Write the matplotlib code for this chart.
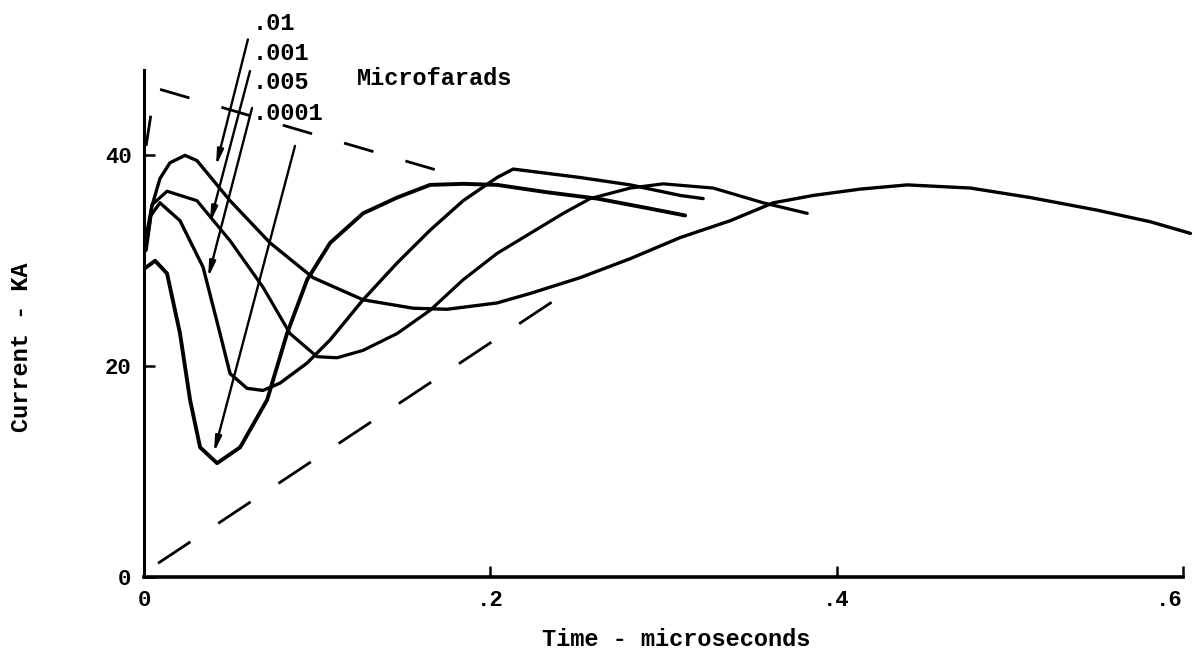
import numpy as np
import matplotlib.pyplot as plt

# ---------------------- data ----------------------

# time in microseconds, current in KA
t_01 = [0.0017, 0.0046, 0.0092, 0.0150, 0.0237, 0.0306, 0.0497, 0.0728, 0.0976, 0.1265,
        0.1554, 0.1750, 0.2039, 0.2230, 0.2519, 0.2808, 0.3096, 0.3385, 0.3634, 0.3865,
        0.4136, 0.4408, 0.4772, 0.5118, 0.5505, 0.5812, 0.6043]
i_01 = [31.9, 35.2, 37.8, 39.3, 40.0, 39.5, 35.7, 31.7, 28.4, 26.3,
        25.5, 25.4, 26.0, 26.9, 28.4, 30.2, 32.2, 33.8, 35.5, 36.2,
        36.8, 37.2, 36.9, 36.0, 34.8, 33.7, 32.6]

t_005 = [0.0017, 0.0046, 0.0133, 0.0306, 0.0497, 0.0687, 0.0843, 0.0999, 0.1115, 0.1265,
         0.1462, 0.1652, 0.1843, 0.2039, 0.2230, 0.2421, 0.2577, 0.2808, 0.2998, 0.3287,
         0.3576, 0.3830]
i_005 = [32.7, 35.3, 36.6, 35.7, 31.9, 27.5, 23.1, 20.9, 20.8, 21.5,
         23.1, 25.3, 28.2, 30.7, 32.6, 34.5, 35.9, 36.9, 37.3, 36.9,
         35.5, 34.5]

t_001 = [0.0012, 0.0040, 0.0092, 0.0208, 0.0341, 0.0439, 0.0497, 0.0595, 0.0687, 0.0786,
         0.0942, 0.1075, 0.1265, 0.1462, 0.1652, 0.1843, 0.2039, 0.2132, 0.2519, 0.2808,
         0.3096, 0.3229]
i_001 = [31.0, 34.3, 35.5, 33.8, 29.4, 23.1, 19.3, 17.9, 17.7, 18.4,
         20.3, 22.5, 26.3, 29.8, 32.9, 35.7, 37.9, 38.7, 37.9, 37.2,
         36.2, 35.9]

t_0001 = [0.0006, 0.0064, 0.0133, 0.0208, 0.0266, 0.0324, 0.0422, 0.0555, 0.0711, 0.0826,
          0.0942, 0.1075, 0.1265, 0.1462, 0.1652, 0.1843, 0.2039, 0.2328, 0.2617, 0.2906,
          0.3125]
i_0001 = [29.3, 30.0, 28.8, 23.1, 16.8, 12.3, 10.8, 12.3, 16.8, 23.1,
          28.2, 31.7, 34.5, 36.0, 37.2, 37.3, 37.2, 36.5, 35.9, 35.0,
          34.3]

# dashed guide lines
t_upper = [0.0012, 0.0064, 0.1837]
i_upper = [40.9, 46.4, 37.9]
t_lower = [0.0081, 0.2421]
i_lower = [1.3, 26.8]

# arrow labels: text, label position, arrow tail, arrow head
cap_labels = [".01", ".001", ".005", ".0001"]
label_t = [0.063, 0.063, 0.063, 0.063]
label_i = [52.5, 49.7, 46.9, 44.0]
tail_t = [0.0600, 0.0612, 0.0624, 0.0872]
tail_i = [51.0, 48.0, 44.5, 40.9]
head_t = [0.0416, 0.0381, 0.0370, 0.0404]
head_i = [39.0, 33.6, 28.4, 11.8]

x_ticks = [0, 0.2, 0.4, 0.6]
x_tick_labels = ["0", ".2", ".4", ".6"]
y_ticks = [0, 20, 40]
y_tick_labels = ["0", "20", "40"]

# ---------------------- plot ----------------------

font = "Liberation Mono"

fig = plt.figure(figsize=(11.93, 6.5), dpi=100)
ax = fig.add_axes([144 / 1193, 1 - 577 / 650, 1039 / 1193, 507 / 650])

style = dict(color="black", clip_on=False, solid_joinstyle="round", solid_capstyle="round")
ax.plot(t_01, i_01, lw=2.4, **style)
ax.plot(t_005, i_005, lw=2.3, **style)
ax.plot(t_001, i_001, lw=2.4, **style)
ax.plot(t_0001, i_0001, lw=2.8, **style)

ax.plot(t_upper, i_upper, color="black", lw=2.0, linestyle=(0, (11, 12)), clip_on=False)
ax.plot(t_lower, i_lower, color="black", lw=2.0, linestyle=(0, (14, 12)), clip_on=False)

for lab, lt, li, tt, ti, ht, hi in zip(cap_labels, label_t, label_i, tail_t, tail_i, head_t, head_i):
    ax.text(lt, li, lab, fontsize=17, family=font, fontweight="bold",
            ha="left", va="center", clip_on=False)
    ax.annotate("", xy=(ht, hi), xytext=(tt, ti), annotation_clip=False,
                arrowprops=dict(arrowstyle="-|>,head_length=0.9,head_width=0.18",
                                color="black", lw=1.7, shrinkA=0, shrinkB=0))

ax.text(0.123, 47.3, "Microfarads", fontsize=17, family=font, fontweight="bold",
        ha="left", va="center", clip_on=False)

ax.set_xlim(0, 0.6)
ax.set_ylim(0, 48.1)
ax.set_xticks(x_ticks)
ax.set_xticklabels(x_tick_labels)
ax.set_yticks(y_ticks)
ax.set_yticklabels(y_tick_labels)
ax.tick_params(direction="in", length=8, width=1.8, labelsize=16, pad=9)
for lbl in ax.get_xticklabels() + ax.get_yticklabels():
    lbl.set_family(font)
    lbl.set_fontweight("bold")
# last x label sits at the right edge, keep it inside the picture
ax.get_xticklabels()[-1].set_horizontalalignment("right")

ax.spines["top"].set_visible(False)
ax.spines["right"].set_visible(False)
ax.spines["left"].set_linewidth(2.2)
ax.spines["bottom"].set_linewidth(2.6)

ax.set_xlabel("Time - microseconds", fontsize=17, family=font, fontweight="bold")
ax.set_ylabel("Current - KA", fontsize=17, family=font, fontweight="bold")
ax.xaxis.set_label_coords(0.512, -0.10)
ax.yaxis.set_label_coords(-0.107, 0.454)

fig.savefig("out.png", dpi=100)
